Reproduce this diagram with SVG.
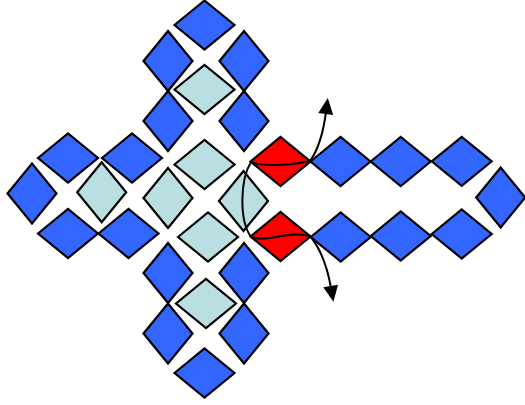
<svg xmlns="http://www.w3.org/2000/svg" xmlns:xlink="http://www.w3.org/1999/xlink" width="525" height="405" viewBox="0 0 525 405">
<style>
.d{stroke:#000;stroke-width:2.2;stroke-linejoin:miter}
.b{fill:#3366FF}
.l{fill:#B9DFE1}
.r{fill:#FF0000}
.c{fill:none;stroke:#000;stroke-width:2}
</style>
<defs>
<polygon id="h" points="-30,0 0,-24.5 30,0 0,24.5"/>
<polygon id="v" points="-24.5,0 0,-30 24.5,0 0,30"/>
<marker id="ah" markerUnits="userSpaceOnUse" markerWidth="20" markerHeight="20" refX="2" refY="10" orient="auto" style="overflow:visible">
<polygon points="0,2.5 16,10 0,17.5" fill="#000"/>
</marker>
</defs>
<rect width="525" height="405" fill="#fff"/>
<g id="nodes">
<g id="b-top"><use href="#h" x="204.5" y="25" class="d b"/></g>
<g id="b-v1l"><use href="#v" x="168" y="61" class="d b"/></g>
<g id="b-v1r"><use href="#v" x="244" y="61" class="d b"/></g>
<g id="l-h1"><use href="#h" x="204.5" y="89.5" class="d l"/></g>
<g id="b-v2l"><use href="#v" x="168" y="121" class="d b"/></g>
<g id="b-v2r"><use href="#v" x="244" y="121" class="d b"/></g>
<g id="l-h2"><use href="#h" x="204.5" y="164.5" class="d l"/></g>
<g id="b-h-ul1"><use href="#h" x="68" y="158" class="d b"/></g>
<g id="b-h-ul2"><use href="#h" x="132" y="158" class="d b"/></g>
<g id="b-v-left"><use href="#v" x="32" y="193.5" class="d b"/></g>
<g id="l-v1"><use href="#v" x="101.7" y="192.3" class="d l"/></g>
<g id="l-v2"><use href="#v" x="168" y="198" class="d l"/></g>
<g id="l-v3"><use href="#v" x="243.5" y="201" class="d l"/></g>
<g id="b-h-ll1"><use href="#h" x="68" y="233.5" class="d b"/></g>
<g id="b-h-ll2"><use href="#h" x="128.5" y="233.5" class="d b"/></g>
<g id="l-h3"><use href="#h" x="208" y="237" class="d l"/></g>
<g id="b-v3l"><use href="#v" x="168" y="273" class="d b"/></g>
<g id="b-v3r"><use href="#v" x="244" y="273" class="d b"/></g>
<g id="l-h4"><use href="#h" x="206" y="303.5" class="d l"/></g>
<g id="b-v4l"><use href="#v" x="168" y="333.5" class="d b"/></g>
<g id="b-v4r"><use href="#v" x="244" y="333.5" class="d b"/></g>
<g id="b-bottom"><use href="#h" x="204.5" y="373" class="d b"/></g>
<g id="r-up"><use href="#h" x="280.5" y="161.5" class="d r"/></g>
<g id="r-low"><use href="#h" x="280.5" y="236.5" class="d r"/></g>
<g id="b-ru1"><use href="#h" x="340.5" y="161.5" class="d b"/></g>
<g id="b-ru2"><use href="#h" x="400.7" y="161.5" class="d b"/></g>
<g id="b-ru3"><use href="#h" x="461.7" y="161.3" class="d b"/></g>
<g id="b-rl1"><use href="#h" x="340.7" y="237" class="d b"/></g>
<g id="b-rl2"><use href="#h" x="400.7" y="236" class="d b"/></g>
<g id="b-rl3"><use href="#h" x="461.7" y="234" class="d b"/></g>
<g id="b-right"><use href="#v" x="500.7" y="197.5" class="d b"/></g>
</g>
<g id="connectors">
<path class="c" d="M251,162 C240,180 239,220 251,237"/>
<path class="c" d="M251,162 C265,167 293,165 310,161"/>
<path class="c" d="M251,237 C265,243 290,230 310,236"/>
<path class="c" d="M310,161 C318,150 323,135 326,112" marker-end="url(#ah)"/>
<path class="c" d="M310,236 C320,248 327,265 331,288" marker-end="url(#ah)"/>
</g>
</svg>
